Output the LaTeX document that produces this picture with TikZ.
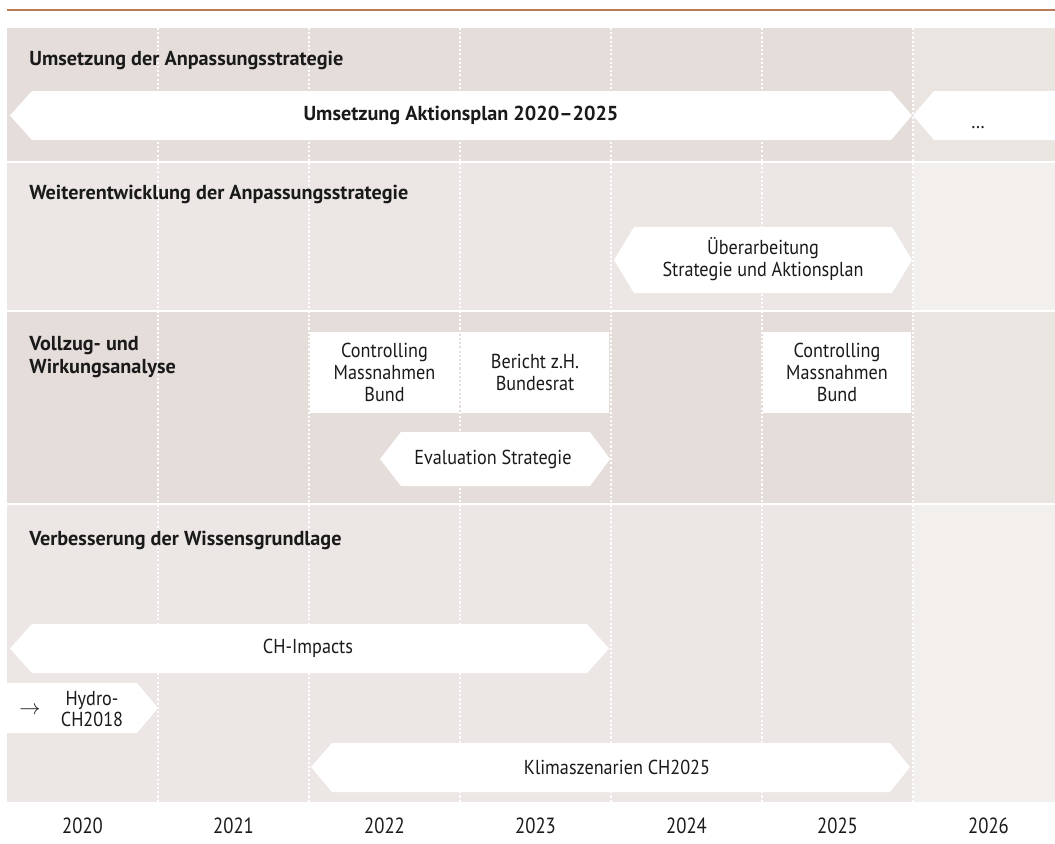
\documentclass[tikz,border=0pt]{standalone}
\usepackage{fontspec}
\setmainfont{PT Sans}
\newfontfamily\yearfont{PT Sans}[FakeStretch=0.85]
\newfontfamily\barfont{PT Sans}[FakeStretch=0.9]
\usepackage{xcolor}
\usetikzlibrary{calc}

\definecolor{rulebrown}{RGB}{185,122,88}
\definecolor{banddark}{RGB}{228,221,218}
\definecolor{bandlight}{RGB}{236,231,228}
\definecolor{enddark}{RGB}{235,229,226}
\definecolor{endlight}{RGB}{243,239,237}
\definecolor{inkblack}{RGB}{26,26,26}

\begin{document}
\begin{tikzpicture}[
    x=0.02cm, y=-0.02cm,
    rowtitle/.style={anchor=base west, inner sep=0pt, align=left, text=inkblack, font=\fontsize{11.5}{13}\selectfont\bfseries},
    barlabel/.style={inner sep=0pt, align=center, text=inkblack, font=\barfont\fontsize{11.5}{12.4}\selectfont},
    yearlabel/.style={anchor=base, inner sep=0pt, text=inkblack, font=\yearfont\fontsize{12.5}{15}\selectfont},
    bar/.style={fill=white, draw=none},
    ctrlbox/.style={rectangle, fill=white, minimum width=2.97cm, minimum height=1.62cm, inner sep=0pt, align=center, text=inkblack, font=\barfont\fontsize{11.5}{12.4}\selectfont},
    yearline/.style={white, line width=0.6pt, dash pattern=on 1.2pt off 1.2pt}
]
\useasboundingbox (0,0) rectangle (1055,843);

% Top rule
\draw[rulebrown, line width=0.6pt] (7,10) -- (1055,10);

% Row bands
\fill[banddark] (7,28) rectangle (913,160.5);
\fill[enddark] (913,28) rectangle (1055,160.5);
\fill[bandlight] (7,162.5) rectangle (913,310);
\fill[endlight] (913,162.5) rectangle (1055,310);
\fill[banddark] (7,312) rectangle (913,503);
\fill[enddark] (913,312) rectangle (1055,503);
\fill[bandlight] (7,505) rectangle (913,802);
\fill[endlight] (913,505) rectangle (1055,802);

% Year separators
\foreach \x in {158,309,460,611,762,913}
    \draw[yearline] (\x,28) -- (\x,802);

% Row 1: Umsetzung
\node[rowtitle] (title1) at (29,65) {Umsetzung der Anpassungsstrategie};
\fill[bar] (10,115.5) -- (32,91) -- (891,91) -- (912,115.5) -- (891,140) -- (32,140) -- cycle;
\node[barlabel, font=\fontsize{11.5}{13}\selectfont\bfseries] (aktion) at (461,115.5) {Umsetzung Aktionsplan 2020–2025};
\fill[bar] (913,115.5) -- (934,91) -- (1055,91) -- (1055,140) -- (934,140) -- cycle;
\node[barlabel, anchor=base] (next) at (978,128) {\ldots};

% Row 2: Weiterentwicklung
\node[rowtitle] (title2) at (29,199) {Weiterentwicklung der Anpassungsstrategie};
\fill[bar] (614,260) -- (634,227) -- (892,227) -- (912,260) -- (892,293) -- (634,293) -- cycle;
\node[barlabel] (rework) at (763,259) {Überarbeitung\\Strategie und Aktionsplan};

% Row 3: Vollzug- und Wirkungsanalyse
\node[rowtitle] (title3) at (29,373) {Vollzug- und\\Wirkungsanalyse};
\node[ctrlbox] (ctrl1) at (384.5,372.5) {Controlling\\Massnahmen\\Bund};
\node[ctrlbox] (report) at (535,372.5) {Bericht z.H.\\Bundesrat};
\node[ctrlbox] (ctrl2) at (837,372.5) {Controlling\\Massnahmen\\Bund};
\fill[bar] (380,459) -- (401,432) -- (590,432) -- (610,459) -- (590,486) -- (401,486) -- cycle;
\node[barlabel] (evalstrat) at (493,459) {Evaluation Strategie};

% Row 4: Wissensgrundlage
\node[rowtitle] (title4) at (29,545) {Verbesserung der Wissensgrundlage};
\fill[bar] (10,648.5) -- (32,624) -- (587,624) -- (609,648.5) -- (587,673) -- (32,673) -- cycle;
\node[barlabel] (impacts) at (308,648.5) {CH-Impacts};
\fill[bar] (7,683) -- (137,683) -- (158,708) -- (137,733) -- (7,733) -- cycle;
\node[barlabel] (hydroarrow) at (30,711) {$\rightarrow$};
\node[barlabel] (hydro) at (92,709) {Hydro-\\CH2018};
\fill[bar] (311,767) -- (332,743) -- (890,743) -- (910,767) -- (890,792) -- (332,792) -- cycle;
\node[barlabel] (klima) at (617,767.5) {Klimaszenarien CH2025};

% Years
\foreach \yr [count=\i from 0] in {2020,2021,2022,2023,2024,2025,2026}
    \node[yearlabel] (y\yr) at (82.5+151*\i,833) {\yr};

\end{tikzpicture}
\end{document}
